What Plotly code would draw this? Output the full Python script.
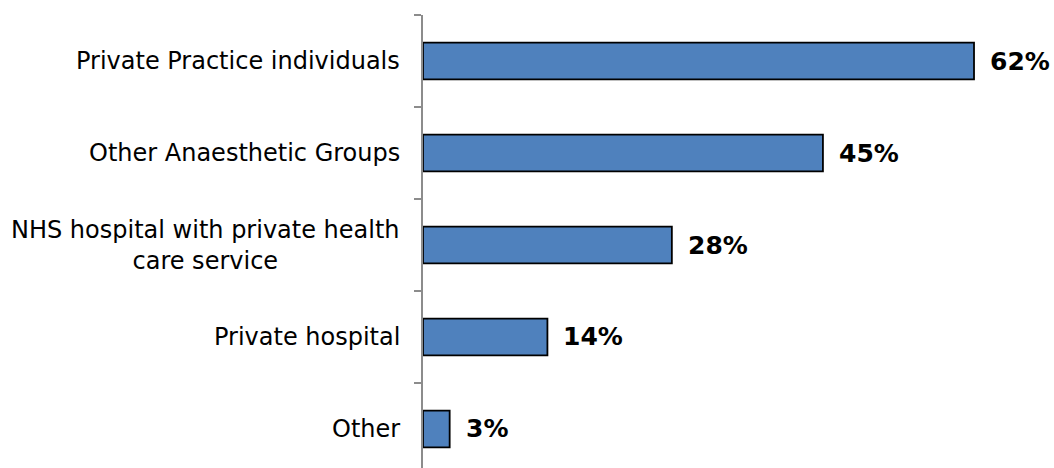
import plotly.graph_objects as go

categories = [
    "Private Practice individuals",
    "Other Anaesthetic Groups",
    "NHS hospital with private health<br>care service",
    "Private hospital",
    "Other",
]
values = [62, 45, 28, 14, 3]

fig = go.Figure(
    go.Bar(
        x=values,
        y=list(range(len(categories))),
        orientation="h",
        width=0.4,
        marker=dict(color="#4F81BD", line=dict(color="#000000", width=1.8)),
        hoverinfo="skip",
    )
)

# category labels, each line centered, block right-aligned against the axis
for i, cat in enumerate(categories):
    fig.add_annotation(
        x=0, xref="paper", y=i, yref="y",
        text=cat, showarrow=False,
        xanchor="right", yanchor="middle", align="center",
        xshift=-21,
        font=dict(family="DejaVu Sans", size=24, color="#000000"),
    )

# value labels to the right of each bar
for i, v in enumerate(values):
    fig.add_annotation(
        x=v, xref="x", y=i, yref="y",
        text=f"<b>{v}%</b>", showarrow=False,
        xanchor="left", yanchor="middle", xshift=14,
        font=dict(family="DejaVu Sans", size=25, color="#000000"),
    )

fig.update_layout(
    width=1054, height=468,
    margin=dict(l=423, r=0, t=15, b=0),
    paper_bgcolor="#FFFFFF", plot_bgcolor="#FFFFFF",
    showlegend=False,
    xaxis=dict(range=[0, 71], visible=False, fixedrange=True),
    yaxis=dict(
        range=[4.424, -0.5],
        tickmode="array",
        tickvals=[-0.5, 0.5, 1.5, 2.5, 3.5],
        ticktext=["", "", "", "", ""],
        ticks="outside", ticklen=7, tickwidth=1.5, tickcolor="#8C8C8C",
        showline=True, linecolor="#8C8C8C", linewidth=1.5,
        showgrid=False, zeroline=False, fixedrange=True,
    ),
)

fig.write_html("out.html")
